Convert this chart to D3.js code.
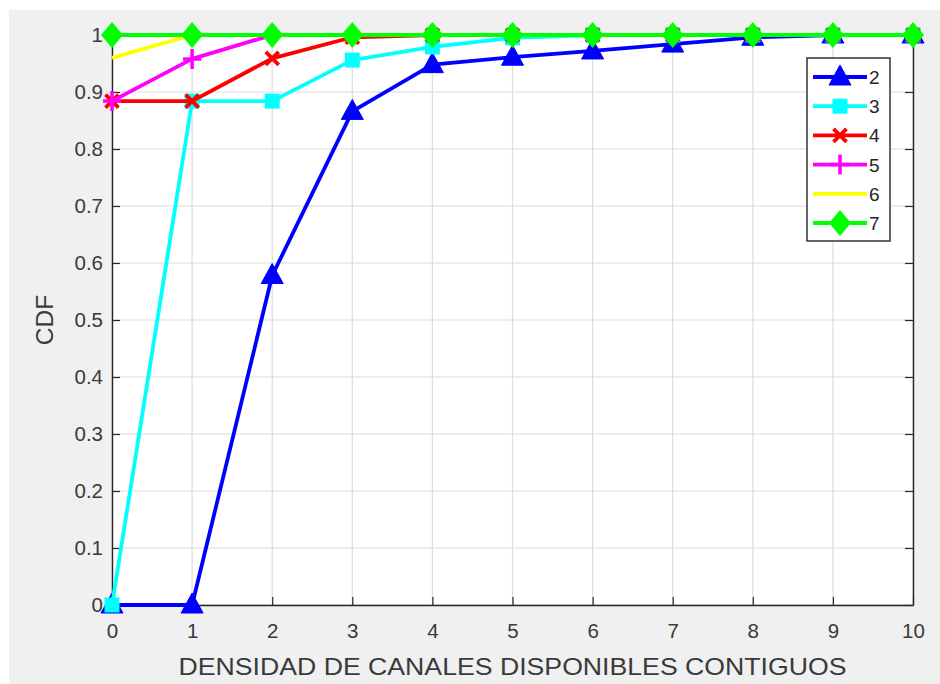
<!DOCTYPE html>
<html><head><meta charset="utf-8">
<script src="https://cdn.jsdelivr.net/npm/d3@7"></script>
<style>body{margin:0;background:#fff;} svg{display:block;}</style>
</head><body>
<svg id="c" width="940" height="684"></svg>
<script>
const xValues = [0,1,2,3,4,5,6,7,8,9,10];
const seriesNames = ["2","3","4","5","6","7"];
const s2 = [0,0,0.578,0.866,0.948,0.961,0.972,0.984,0.996,1,1];
const s3 = [0,0.884,0.884,0.956,0.979,0.995,1,1,1,1,1];
const s4 = [0.884,0.884,0.959,0.996,1,1,1,1,1,1,1];
const s5 = [0.884,0.958,1,1,1,1,1,1,1,1,1];
const s6 = [0.96,1,1,1,1,1,1,1,1,1,1];
const s7 = [1,1,1,1,1,1,1,1,1,1,1];
const xTicks = [0,1,2,3,4,5,6,7,8,9,10];
const yTicks = [0,0.1,0.2,0.3,0.4,0.5,0.6,0.7,0.8,0.9,1];
const xLabel = "DENSIDAD DE CANALES DISPONIBLES CONTIGUOS";
const yLabel = "CDF";

const colors = ["#0000ff","#00ffff","#ff0000","#ff00ff","#ffff00","#00ff00"];
const markers = ["tri","sq","x","plus","none","dia"];
const data = [s2,s3,s4,s5,s6,s7];

const svg = d3.select("#c");
svg.append("rect").attr("x",9).attr("y",10).attr("width",931).attr("height",674).attr("fill","#f0f0f0");

const L=112,R=913,T=35,B=605;
const x = d3.scaleLinear().domain([0,10]).range([L,R]);
const y = d3.scaleLinear().domain([0,1]).range([B,T]);

svg.append("rect").attr("x",L).attr("y",T).attr("width",R-L).attr("height",B-T).attr("fill","#fff");

// grid
const g = svg.append("g");
g.selectAll(".gx").data(xTicks).enter().append("line")
  .attr("x1",d=>x(d)).attr("x2",d=>x(d)).attr("y1",T).attr("y2",B)
  .attr("stroke","#dcdcdc").attr("stroke-width",1.2);
g.selectAll(".gy").data(yTicks).enter().append("line")
  .attr("y1",d=>y(d)).attr("y2",d=>y(d)).attr("x1",L).attr("x2",R)
  .attr("stroke","#dcdcdc").attr("stroke-width",1.2);

// axes with inward ticks
const axCol="#262626";
const font="'Liberation Sans', Arial, sans-serif";
const xb = svg.append("g").attr("transform",`translate(0,${B})`)
  .call(d3.axisBottom(x).tickValues(xTicks).tickSizeInner(-8).tickSizeOuter(0).tickPadding(18).tickFormat(d3.format("d")));
const xt = svg.append("g").attr("transform",`translate(0,${T})`)
  .call(d3.axisTop(x).tickValues(xTicks).tickSizeInner(-8).tickSizeOuter(0).tickFormat(""));
const yl = svg.append("g").attr("transform",`translate(${L},0)`)
  .call(d3.axisLeft(y).tickValues(yTicks).tickSizeInner(-8).tickSizeOuter(0).tickPadding(9).tickFormat(d=>d3.format("")(+d.toFixed(1))));
const yr = svg.append("g").attr("transform",`translate(${R},0)`)
  .call(d3.axisRight(y).tickValues(yTicks).tickSizeInner(-8).tickSizeOuter(0).tickFormat(""));
[xb,xt,yl,yr].forEach(a=>{
  a.selectAll("path").attr("stroke",axCol).attr("stroke-width",1.4);
  a.selectAll("line").attr("stroke",axCol).attr("stroke-width",1.2);
  a.selectAll("text").attr("fill","#3a3a3a").style("font-family",font).style("font-size","20.5px");
});

// lines
const line = d3.line().x((d,i)=>x(xValues[i])).y(d=>y(d));
const plot = svg.append("g");

function drawMarker(sel, type, color, cx, cy){
  if(type==="tri"){
    sel.append("path").attr("d",`M${cx},${cy-12} L${cx+11},${cy+8} L${cx-11},${cy+8} Z`).attr("fill",color).attr("stroke",color).attr("stroke-width",1);
  } else if(type==="sq"){
    sel.append("rect").attr("x",cx-7.5).attr("y",cy-7.5).attr("width",15).attr("height",15).attr("fill",color);
  } else if(type==="x"){
    sel.append("path").attr("d",`M${cx-6.5},${cy-6.5} L${cx+6.5},${cy+6.5} M${cx-6.5},${cy+6.5} L${cx+6.5},${cy-6.5}`).attr("stroke",color).attr("stroke-width",3.8);
  } else if(type==="plus"){
    sel.append("path").attr("d",`M${cx-9},${cy} L${cx+9},${cy} M${cx},${cy-10} L${cx},${cy+10}`).attr("stroke",color).attr("stroke-width",3.5);
  } else if(type==="dia"){
    sel.append("path").attr("d",`M${cx},${cy-13} L${cx+11},${cy} L${cx},${cy+13} L${cx-11},${cy} Z`).attr("fill",color);
  }
}

data.forEach((s,k)=>{
  plot.append("path").datum(s).attr("d",line).attr("fill","none")
    .attr("stroke",colors[k]).attr("stroke-width",3.8).attr("stroke-linejoin","round");
  const mg = plot.append("g");
  s.forEach((v,i)=>drawMarker(mg, markers[k], colors[k], x(xValues[i]), y(v)));
});

// labels
svg.append("text").attr("x",(L+R)/2).attr("y",675).attr("text-anchor","middle")
  .attr("textLength",668).attr("lengthAdjust","spacingAndGlyphs")
  .attr("fill","#3a3a3a").style("font-family",font).style("font-size","24px").text(xLabel);
svg.append("text").attr("transform",`translate(53,${(T+B)/2}) rotate(-90)`).attr("text-anchor","middle")
  .attr("fill","#3a3a3a").style("font-family",font).style("font-size","24.5px").text(yLabel);

// legend
const lg = svg.append("g");
lg.append("rect").attr("x",807).attr("y",58).attr("width",83).attr("height",183)
  .attr("fill","#fff").attr("stroke",axCol).attr("stroke-width",1.4);
seriesNames.forEach((n,k)=>{
  const cy = 77 + k*29.2;
  lg.append("line").attr("x1",813).attr("x2",867).attr("y1",cy).attr("y2",cy)
    .attr("stroke",colors[k]).attr("stroke-width",3.8);
  drawMarker(lg, markers[k], colors[k], 840, cy);
  lg.append("text").attr("x",869).attr("y",cy+7).attr("fill","#262626")
    .style("font-family",font).style("font-size","19px").text(n);
});
</script>
</body></html>
